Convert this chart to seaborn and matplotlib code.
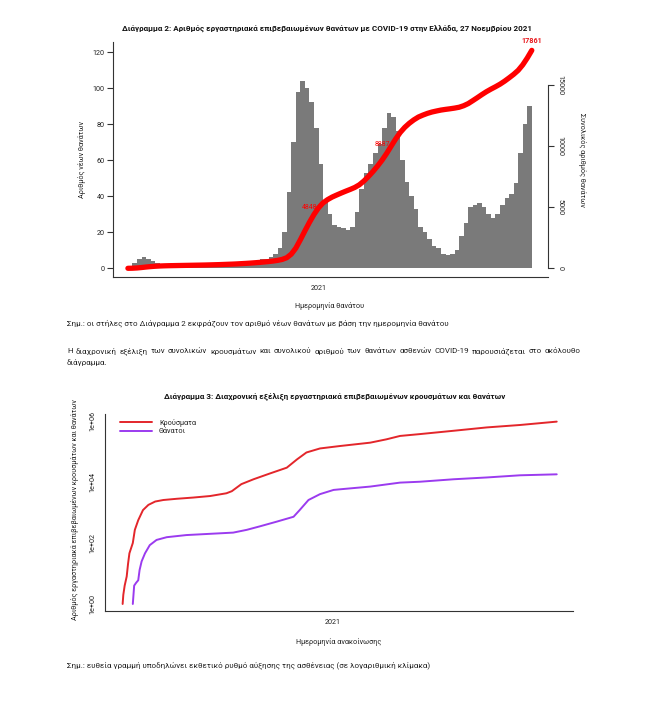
import numpy as np
import pandas as pd
import matplotlib
matplotlib.use("Agg")
import matplotlib.pyplot as plt
import matplotlib.dates as mdates
import seaborn as sns

# ── Διάγραμμα 2: νέοι θάνατοι (μέσος ημερήσιος ανά εβδομάδα, από 12/3/2020) ──
deaths_start = "2020-03-12"
weekly_deaths = [
    1, 3, 5, 6, 5, 4, 3, 2,
    1.5, 1, 1, 1, 1, 1, 1, 1, 1, 1.5, 1.5, 1.5, 2,
    2, 2, 2.5, 3,
    3, 3.5, 4, 4,
    5, 5, 6, 8, 11,
    20,
    42, 70, 98, 104, 100, 92, 78, 58,
    38, 30, 24, 23, 22, 21, 23,
    31, 44, 53, 58, 64, 69, 78, 86, 84, 76,
    60, 48, 40, 33, 23, 20, 16, 12, 11, 8, 7, 8,
    10, 18, 25, 34, 35, 36, 34, 30, 28, 30,
    35, 39, 41, 47, 64, 80, 90,
]
total_label = "17861"
mid_labels = ["4848", "8887"]
mid_label_dates = ["2021-01-01", "2021-04-24"]

# ── Διάγραμμα 3: συνολικά κρούσματα / θάνατοι (ημέρες από 26/2/2020) ──
series_start = "2020-02-26"
cases_days = [0, 1, 3, 6, 8, 10, 15, 18, 23, 30, 38, 48, 60, 80, 104, 129, 153,
              161, 175, 193, 217, 242, 257, 271, 291, 320, 365, 389, 409, 438,
              488, 537, 586, 640]
cases_total = [1, 2, 4, 8, 21, 46, 100, 270, 560, 1200, 1780, 2290, 2570, 2820,
               3090, 3470, 4270, 5000, 8500, 12300, 19000, 29500, 55000, 93000,
               126000, 151000, 195000, 251000, 324000, 372000, 479000, 617000,
               741000, 955000]
deaths_days = [15, 17, 20, 23, 25, 28, 33, 40, 50, 65, 94, 129, 163, 183, 202,
               227, 252, 261, 274, 291, 311, 320, 365, 409, 438, 488, 537, 586, 640]
deaths_total = [1, 4, 5, 6, 13, 25, 46, 85, 126, 155, 182, 200, 219, 270, 350,
                500, 725, 1200, 2570, 4000, 5500, 5750, 7080, 9550, 10200, 12300,
                14100, 16600, 17861]

sns.set_style("white")
plt.rcParams["font.family"] = ["Roboto", "DejaVu Sans"]

W, H = 650, 707
fig = plt.figure(figsize=(W / 100, H / 100), dpi=100)


def fx(px):
    return px / W


def fy(py):
    return 1 - py / H


def txt(x, y, s, **kw):
    return fig.text(fx(x), fy(y), s, **kw)


def justified(x0, x1, y, line, **kw):
    # στοίχιση πλήρους πλάτους, λέξη-λέξη
    renderer = fig.canvas.get_renderer()
    words = line.split()
    items = [txt(x0, y, w, ha="left", va="center", **kw) for w in words]
    widths = [t.get_window_extent(renderer).width for t in items]
    gap = (x1 - x0 - sum(widths)) / (len(words) - 1)
    pos = x0
    for t, w in zip(items, widths):
        t.set_x(fx(pos))
        pos += w + gap


AXC = "#333333"
TXT = "#222222"
BODY = 5.8

# ── Διάγραμμα 2 ───────────────────────────
ax1 = fig.add_axes([fx(113), fy(277), fx(548) - fx(113), fy(42) - fy(277)])
start = pd.Timestamp(deaths_start)
week_dates = pd.date_range(start, periods=len(weekly_deaths), freq="7D")
ax1.bar(week_dates, weekly_deaths, width=7, align="edge", color="#7a7a7a", linewidth=0)

cum_dates = pd.DatetimeIndex([start]).append(week_dates + pd.Timedelta(days=7))
cum_vals = np.concatenate([[0], np.cumsum(np.array(weekly_deaths) * 7)])

ax2 = ax1.twinx()
sns.lineplot(x=cum_dates, y=cum_vals, ax=ax2, color="#FF0000", linewidth=3.8,
             solid_capstyle="round")

ax1.set_xlim(start - pd.Timedelta(days=23), start + pd.Timedelta(days=648))
ax1.set_ylim(-5, 125.6)
ax2.set_ylim(-713, 18549)
ax1.set_yticks([0, 20, 40, 60, 80, 100, 120])
ax2.set_yticks([0, 5000, 10000, 15000])
ax1.set_xticks([pd.Timestamp("2021-01-01")])
ax1.xaxis.set_major_formatter(mdates.DateFormatter("%Y"))

for sp in ["top", "right"]:
    ax1.spines[sp].set_visible(False)
for sp in ["top", "left", "bottom"]:
    ax2.spines[sp].set_visible(False)
ax2.spines["right"].set_bounds(0, 15000)
for a in (ax1, ax2):
    for sp in a.spines.values():
        sp.set_color(AXC)
        sp.set_linewidth(0.8)
    a.tick_params(direction="out", length=4, width=0.8, color=AXC,
                  labelsize=5.2, labelcolor=TXT, pad=2)
    a.set_xlabel("")
    a.set_ylabel("")
for lab in ax2.get_yticklabels():
    lab.set_rotation(-90)
    lab.set_va("center")

for lab, d in zip(mid_labels, mid_label_dates):
    dd = pd.Timestamp(d)
    yv = np.interp(mdates.date2num(dd), mdates.date2num(cum_dates), cum_vals)
    ax2.text(dd - pd.Timedelta(days=3), yv, lab, color="#FF0000", fontsize=5,
             ha="right", va="center")
ax2.text(cum_dates[-1], cum_vals[-1] + 450, total_label, color="#E8171C",
         fontsize=5.2, fontweight="bold", ha="center", va="bottom")

txt(82, 160, "Αριθμός νέων θανάτων", rotation=90, ha="center", va="center",
    fontsize=5.2, color=TXT)
txt(582, 160, "Συνολικός αριθμός θανάτων", rotation=-90, ha="center", va="center",
    fontsize=5.2, color=TXT)
txt(327, 29, "Διάγραμμα 2: Αριθμός εργαστηριακά επιβεβαιωμένων θανάτων με COVID-19 "
    "στην Ελλάδα, 27 Νοεμβρίου 2021", ha="center", va="center", fontsize=5.8,
    fontweight="bold", color="#111111")
txt(330, 306, "Ημερομηνία θανάτου", ha="center", va="center", fontsize=5.2, color=TXT)

txt(67, 323, "Σημ.: οι στήλες στο Διάγραμμα 2 εκφράζουν τον αριθμό νέων θανάτων με "
    "βάση την ημερομηνία θανάτου", ha="left", va="center", fontsize=BODY, color=TXT)
justified(67, 581, 351, "Η διαχρονική εξέλιξη των συνολικών κρουσμάτων και "
          "συνολικού αριθμού των θανάτων ασθενών COVID-19 παρουσιάζεται στο "
          "ακόλουθο", fontsize=BODY, color=TXT)
txt(67, 362, "διάγραμμα.", ha="left", va="center", fontsize=BODY, color=TXT)

# ── Διάγραμμα 3 ───────────────────────────
ax3 = fig.add_axes([fx(105), fy(611), fx(573) - fx(105), fy(414) - fy(611)])
s2 = pd.Timestamp(series_start)
case_dates = s2 + pd.to_timedelta(cases_days, unit="D")
death_dates = s2 + pd.to_timedelta(deaths_days, unit="D")
sns.lineplot(x=case_dates, y=cases_total, ax=ax3, color="#E3262B", linewidth=1.4,
             label="Κρούσματα")
sns.lineplot(x=death_dates, y=deaths_total, ax=ax3, color="#9B3BEF", linewidth=1.4,
             label="Θάνατοι")
ax3.set_yscale("log")
ax3.set_ylim(10 ** -0.23, 10 ** 6.23)
ax3.set_xlim(s2 - pd.Timedelta(days=26), s2 + pd.Timedelta(days=664))
ax3.set_yticks([1, 1e2, 1e4, 1e6])
ax3.set_yticklabels(["1e+00", "1e+02", "1e+04", "1e+06"], rotation=90, va="center")
ax3.minorticks_off()
ax3.set_xticks([pd.Timestamp("2021-01-01")])
ax3.xaxis.set_major_formatter(mdates.DateFormatter("%Y"))
for sp in ["top", "right"]:
    ax3.spines[sp].set_visible(False)
for sp in ax3.spines.values():
    sp.set_color(AXC)
    sp.set_linewidth(0.8)
ax3.tick_params(direction="out", length=4, width=0.8, color=AXC, labelsize=5.2,
                labelcolor=TXT, pad=2)
ax3.set_xlabel("")
ax3.set_ylabel("")
ax3.legend(loc="upper left", bbox_to_anchor=(0.032, 0.975), frameon=False,
           fontsize=5.2, handlelength=4.4, handletextpad=1.0, labelspacing=0.15,
           borderpad=0, borderaxespad=0, labelcolor=TXT)

txt(335, 397, "Διάγραμμα 3: Διαχρονική εξέλιξη εργαστηριακά επιβεβαιωμένων "
    "κρουσμάτων και θανάτων", ha="center", va="center", fontsize=5.8,
    fontweight="bold", color="#111111")
txt(75, 510, "Αριθμός εργαστηριακά επιβεβαιωμένων κρουσμάτων και θανάτων",
    rotation=90, ha="center", va="center", fontsize=5.2, color=TXT)
txt(339, 642, "Ημερομηνία ανακοίνωσης", ha="center", va="center", fontsize=5.2,
    color=TXT)
txt(67, 665, "Σημ.: ευθεία γραμμή υποδηλώνει εκθετικό ρυθμό αύξησης της ασθένειας "
    "(σε λογαριθμική κλίμακα)", ha="left", va="center", fontsize=BODY, color=TXT)

fig.savefig("out.png", dpi=100)
